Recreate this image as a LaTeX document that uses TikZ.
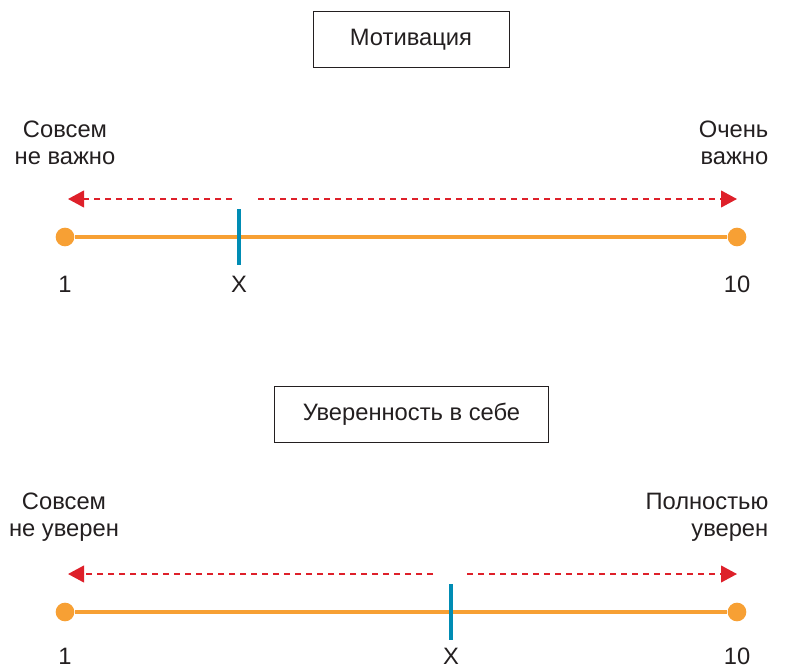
\documentclass[tikz,border=0pt]{standalone}
\usepackage{fontspec}
\setmainfont{Liberation Sans}
\usetikzlibrary{arrows.meta}
\definecolor{inkgray}{RGB}{35,31,32}
\definecolor{lineorange}{RGB}{247,160,52}
\definecolor{tickblue}{RGB}{0,140,180}
\definecolor{hintred}{RGB}{222,32,42}

\begin{document}
\begin{tikzpicture}[x=0.75pt, y=-0.75pt, font=\fontsize{17.8}{20}\selectfont, text=inkgray,
  title/.style = {draw=inkgray, line width=0.75pt, inner sep=0pt},
  scaleline/.style = {lineorange, line width=3pt},
  enddot/.style = {circle, fill=lineorange, inner sep=0pt, minimum size=14pt},
  xtick/.style = {tickblue, line width=3.6pt},
  hint/.style = {hintred, line width=1.5pt, dash pattern=on 4.5pt off 3.75pt, -{Triangle[length=12pt,width=12.5pt]}},
  num/.style = {inner sep=1pt}]
\useasboundingbox (0,0) rectangle (798,670);

% Мотивация
\node[title, minimum width=147pt, minimum height=42pt] (mot) at (411,40) {Мотивация};
\node[align=center] (mlo) at (65,142.5) {Совсем\\не важно};
\node[align=right, anchor=east] (mhi) at (773,142.5) {Очень\\важно};
\coordinate (mgl) at (232,199);
\coordinate (mgr) at (258,199);
\coordinate (mtl) at (68,199);
\coordinate (mtr) at (737,199);
\draw[hint] (mgl) -- (mtl);
\draw[hint] (mgr) -- (mtr);
\node[enddot] (m1) at (65,237) {};
\node[enddot] (m10) at (737,237) {};
\draw[scaleline] (m1) -- (m10);
\coordinate (mxa) at (239,209);
\coordinate (mxb) at (239,265);
\draw[xtick] (mxa) -- (mxb);
\node[num] (ml1) at (65,284) {1};
\node[num] (mlx) at (239,284) {X};
\node[num] (ml10) at (737,284) {10};

% Уверенность в себе
\node[title, minimum width=205pt, minimum height=42.5pt] (conf) at (411.5,414.5) {Уверенность в себе};
\node[align=center] (clo) at (64,517) {Совсем\\не уверен};
\node[align=right, anchor=east] (chi) at (773,517) {Полностью\\уверен};
\coordinate (cgl) at (433,574);
\coordinate (cgr) at (467,574);
\coordinate (ctl) at (68,574);
\coordinate (ctr) at (737,574);
\draw[hint] (cgl) -- (ctl);
\draw[hint] (cgr) -- (ctr);
\node[enddot] (c1) at (65,612) {};
\node[enddot] (c10) at (737,612) {};
\draw[scaleline] (c1) -- (c10);
\coordinate (cxa) at (451,584);
\coordinate (cxb) at (451,640);
\draw[xtick] (cxa) -- (cxb);
\node[num] (cl1) at (65,656) {1};
\node[num] (clx) at (451,656) {X};
\node[num] (cl10) at (737,656) {10};
\end{tikzpicture}
\end{document}
